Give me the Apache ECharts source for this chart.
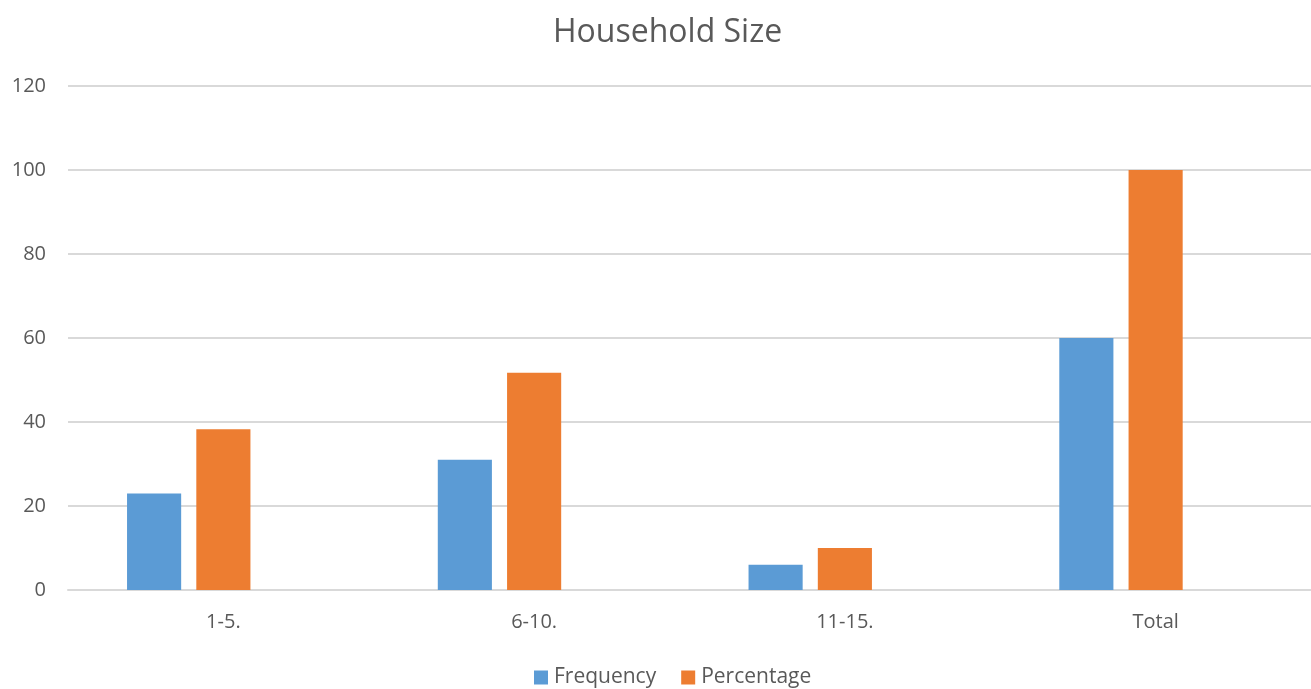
<!DOCTYPE html>
<html>
<head>
<meta charset="utf-8">
<title>Household Size</title>
<script src="https://cdn.jsdelivr.net/npm/echarts@6/dist/echarts.min.js"></script>
<style>
  html, body { margin: 0; padding: 0; background: #ffffff; }
  #chart { width: 1311px; height: 689px; }
</style>
</head>
<body>
<div id="chart"></div>
<script>
// Household size groups and counts
const categories = ['1-5.', '6-10.', '11-15.', 'Total'];
const frequency = [23, 31, 6, 60];
const percentage = [38.3, 51.7, 10, 100];
const yTicks = { min: 0, max: 120, interval: 20 };

const textColor = '#595959';
const gridColor = '#D9D9D9';
const font = '"Open Sans", "Segoe UI", Calibri, sans-serif';

const chart = echarts.init(document.getElementById('chart'), null, { renderer: 'canvas' });

chart.setOption({
  backgroundColor: '#ffffff',
  animation: false,
  title: {
    text: 'Household Size',
    left: 548,
    top: 12,
    textStyle: { color: textColor, fontFamily: font, fontSize: 32, fontWeight: 'normal' }
  },
  legend: {
    data: ['Frequency', 'Percentage'],
    top: 667,
    left: 534,
    padding: 0,
    itemWidth: 14,
    itemHeight: 14,
    itemGap: 25,
    icon: 'rect',
    textStyle: { color: textColor, fontFamily: font, fontSize: 21, padding: [0, 0, 0, 1] }
  },
  grid: { left: 68, right: -2, top: 86, bottom: 99, containLabel: false },
  xAxis: {
    type: 'category',
    data: categories,
    axisLine: { show: true, lineStyle: { color: gridColor, width: 2 } },
    axisTick: { show: false },
    axisLabel: { color: textColor, fontFamily: font, fontSize: 20, margin: 22 }
  },
  yAxis: {
    type: 'value',
    min: yTicks.min,
    max: yTicks.max,
    interval: yTicks.interval,
    axisLine: { show: false },
    axisTick: { show: false },
    splitLine: { lineStyle: { color: gridColor, width: 2 } },
    axisLabel: { color: textColor, fontFamily: font, fontSize: 20, margin: 22 }
  },
  series: [
    {
      name: 'Frequency',
      type: 'bar',
      data: frequency,
      barGap: '28%',
      barCategoryGap: '38%',
      itemStyle: { color: '#5B9BD5' }
    },
    {
      name: 'Percentage',
      type: 'bar',
      data: percentage,
      itemStyle: { color: '#ED7D31' }
    },
    {
      // empty third slot keeps the pair left of each category centre
      name: 'spacer',
      type: 'bar',
      data: [],
      itemStyle: { color: 'transparent' }
    }
  ]
});
</script>
</body>
</html>
